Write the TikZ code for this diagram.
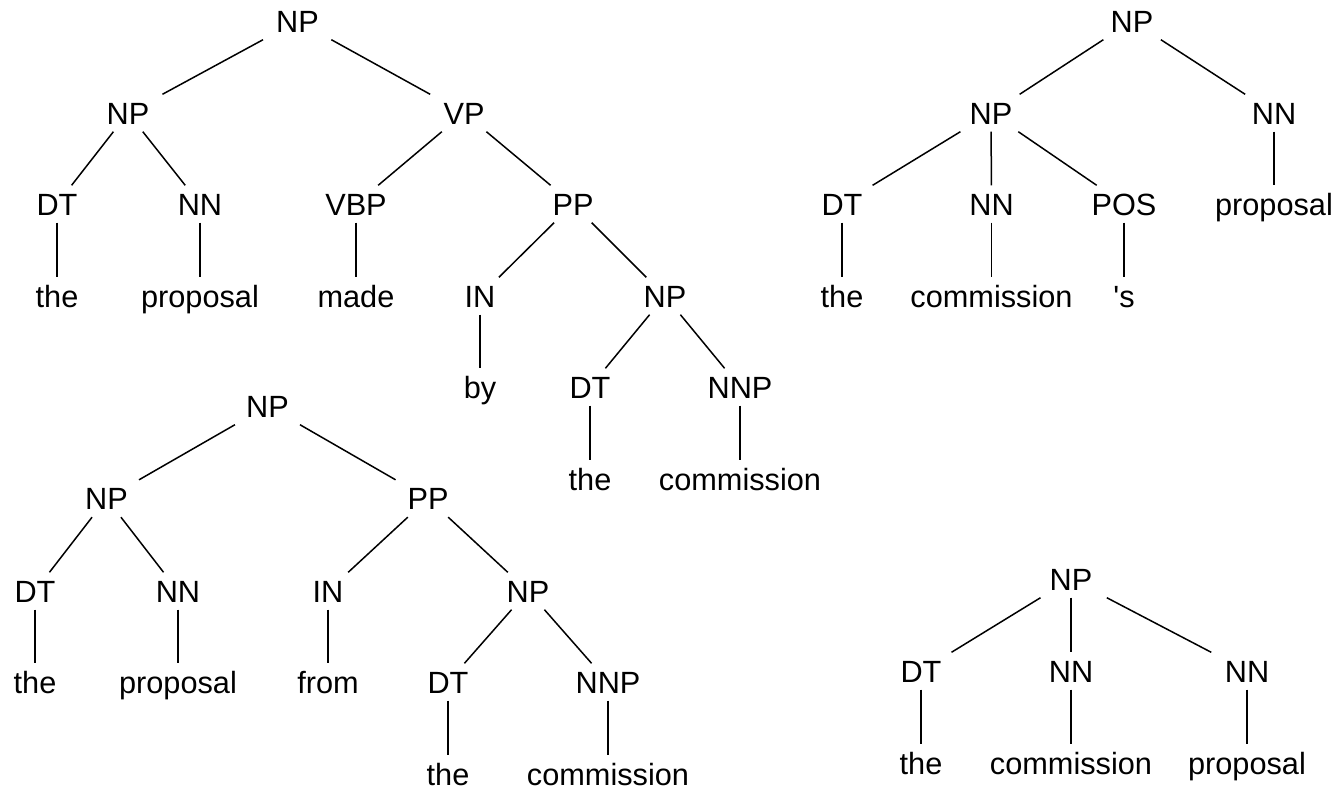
\documentclass[tikz,border=0pt]{standalone}
\usepackage{fontspec}
\setmainfont{Liberation Sans}[Ligatures=TeXOff]
\begin{document}
\begin{tikzpicture}[x=1pt,y=-1pt,
  lbl/.style={rectangle, inner sep=0pt, minimum height=37pt, minimum width=90pt,
    text height=22pt, text depth=0pt, font=\fontsize{30.7}{36}\selectfont},
  br/.style={line width=1.5pt, black}]
\useasboundingbox (0,0) rectangle (1341,790);

% ---- Tree 1: the proposal made by the commission
\node[lbl] (a0) at (297.5,21) {NP};
\node[lbl] (a1) at (128,113) {NP};
\node[lbl] (a2) at (464,113) {VP};
\node[lbl] (a3) at (57,204) {DT};
\node[lbl] (a4) at (200,204) {NN};
\node[lbl] (a5) at (356,204) {VBP};
\node[lbl] (a6) at (573,204) {PP};
\node[lbl] (a7) at (57,296) {the};
\node[lbl] (a8) at (200,296) {proposal};
\node[lbl] (a9) at (356,296) {made};
\node[lbl] (a10) at (480,296) {IN};
\node[lbl] (a11) at (665,296) {NP};
\node[lbl] (a12) at (480,387) {by};
\node[lbl] (a13) at (590,387) {DT};
\node[lbl] (a14) at (740,387) {NNP};
\node[lbl] (a15) at (590,479) {the};
\node[lbl] (a16) at (740,479) {commission};
\draw[br] (a0) -- (a1);
\draw[br] (a0) -- (a2);
\draw[br] (a1) -- (a3);
\draw[br] (a1) -- (a4);
\draw[br] (a2) -- (a5);
\draw[br] (a2) -- (a6);
\draw[br] (a3) -- (a7);
\draw[br] (a4) -- (a8);
\draw[br] (a5) -- (a9);
\draw[br] (a6) -- (a10);
\draw[br] (a6) -- (a11);
\draw[br] (a10) -- (a12);
\draw[br] (a11) -- (a13);
\draw[br] (a11) -- (a14);
\draw[br] (a13) -- (a15);
\draw[br] (a14) -- (a16);

% ---- Tree 2: the commission 's proposal
\node[lbl] (b0) at (1132,21) {NP};
\node[lbl] (b1) at (991,113) {NP};
\node[lbl] (b2) at (1274,113) {NN};
\node[lbl] (b3) at (842,204) {DT};
\node[lbl] (b4) at (991.5,204) {NN};
\node[lbl] (b5) at (1124,204) {POS};
\node[lbl] (b6) at (1274,204) {proposal};
\node[lbl] (b7) at (842,296) {the};
\node[lbl] (b8) at (991.5,296) {commission};
\node[lbl] (b9) at (1124,296) {'s};
\draw[br] (b0) -- (b1);
\draw[br] (b0) -- (b2);
\draw[br] (b1) -- (b3);
\draw[br] (b1) -- (b4);
\draw[br] (b1) -- (b5);
\draw[br] (b2) -- (b6);
\draw[br] (b3) -- (b7);
\draw[br] (b4) -- (b8);
\draw[br] (b5) -- (b9);

% ---- Tree 3: the proposal from the commission
\node[lbl] (c0) at (267.5,406) {NP};
\node[lbl] (c1) at (106.5,498.5) {NP};
\node[lbl] (c2) at (428,498.5) {PP};
\node[lbl] (c3) at (35,591) {DT};
\node[lbl] (c4) at (178,591) {NN};
\node[lbl] (c5) at (328,591) {IN};
\node[lbl] (c6) at (528,591) {NP};
\node[lbl] (c7) at (35,682) {the};
\node[lbl] (c8) at (178,682) {proposal};
\node[lbl] (c9) at (328,682) {from};
\node[lbl] (c10) at (448,682) {DT};
\node[lbl] (c11) at (608,682) {NNP};
\node[lbl] (c12) at (448,774) {the};
\node[lbl] (c13) at (608,774) {commission};
\draw[br] (c0) -- (c1);
\draw[br] (c0) -- (c2);
\draw[br] (c1) -- (c3);
\draw[br] (c1) -- (c4);
\draw[br] (c2) -- (c5);
\draw[br] (c2) -- (c6);
\draw[br] (c3) -- (c7);
\draw[br] (c4) -- (c8);
\draw[br] (c5) -- (c9);
\draw[br] (c6) -- (c10);
\draw[br] (c6) -- (c11);
\draw[br] (c10) -- (c12);
\draw[br] (c11) -- (c13);

% ---- Tree 4: the commission proposal
\node[lbl] (d0) at (1071,579) {NP};
\node[lbl] (d1) at (921,671) {DT};
\node[lbl] (d2) at (1071,671) {NN};
\node[lbl] (d3) at (1247,671) {NN};
\node[lbl] (d4) at (921,763) {the};
\node[lbl] (d5) at (1071,763) {commission};
\node[lbl] (d6) at (1247,763) {proposal};
\draw[br] (d0) -- (d1);
\draw[br] (d0) -- (d2);
\draw[br] (d0) -- (d3);
\draw[br] (d1) -- (d4);
\draw[br] (d2) -- (d5);
\draw[br] (d3) -- (d6);
\end{tikzpicture}
\end{document}
